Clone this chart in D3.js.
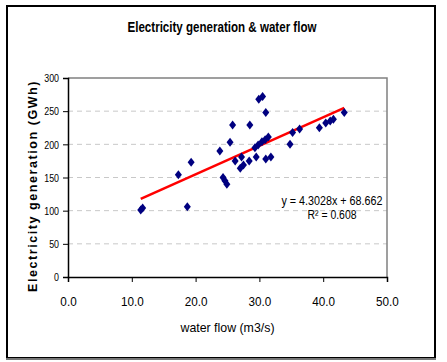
<!DOCTYPE html>
<meta charset="utf-8">
<html>
<script src="https://d3js.org/d3.v7.min.js"></script>

<style>
    body {
        margin: 0;
        background-color: #fff;
    }
    svg text {
        font-family: "Liberation Sans", Arial, sans-serif;
    }
</style>

<body>
<svg id="chart"></svg>

<script>
// ------------------------------- data -------------------------------
const waterFlow = [11.4, 11.7, 17.3, 18.7, 19.3, 23.8, 24.3, 24.6, 24.9, 25.4,
                   25.8, 26.2, 27.0, 27.2, 27.5, 28.4, 28.5, 29.3, 29.5, 29.8,
                   29.9, 30.4, 30.5, 30.9, 31.0, 31.0, 31.4, 31.8, 34.8, 35.2,
                   36.3, 39.4, 40.4, 41.1, 41.6, 43.3];
const electricity = [101, 104, 154, 106, 173, 190, 150, 145, 140, 203,
                     229, 175, 164, 181, 169, 175, 229, 195, 181, 199,
                     268, 204, 272, 207, 248, 178, 211, 181, 200, 218,
                     223, 225, 232, 235, 238, 248];
const xTicks = [0, 10, 20, 30, 40, 50];
const yTicks = [0, 50, 100, 150, 200, 250, 300];
const trendSlope = 4.3028, trendIntercept = 68.662, rSquared = 0.608;

//dimensions
let width = 447, height = 362;

let svg = d3.select("#chart")
    .attr("width", width)
    .attr("height", height);

// no narrow font installed -> squeeze text horizontally
function squeeze(sel, k) {
    sel.each(function () {
        let w = this.getComputedTextLength();
        d3.select(this)
            .attr("textLength", w * k)
            .attr("lengthAdjust", "spacingAndGlyphs");
    });
}

// outer frame
svg.append("rect")
    .attr("x", 7).attr("y", 6)
    .attr("width", 428).attr("height", 352)
    .attr("fill", "#fff")
    .attr("stroke", "#000")
    .attr("stroke-width", 2);
svg.append("line")
    .attr("x1", 6).attr("x2", 436)
    .attr("y1", 359).attr("y2", 359)
    .attr("stroke", "#777").attr("stroke-width", 2);

// scales
let x = d3.scaleLinear().domain([0, 50]).range([68, 387]);
let y = d3.scaleLinear().domain([0, 300]).range([277, 78]);

// gridlines (dashed)
svg.append("g")
    .selectAll("line")
    .data(yTicks.filter(d => d > 0 && d < 300))
    .enter()
    .append("line")
        .attr("x1", x(0)).attr("x2", x(50))
        .attr("y1", d => y(d)).attr("y2", d => y(d))
        .attr("stroke", "#c8c8c8")
        .attr("stroke-dasharray", "5,4");

// plot border top + right (gray)
svg.append("path")
    .attr("d", `M${x(0)},${y(300)}H${x(50)}V${y(0)}`)
    .attr("fill", "none")
    .attr("stroke", "#808080")
    .attr("stroke-width", 1.5);

// axes
let xAxis = svg.append("g")
    .attr("transform", `translate(0,${y(0)})`)
    .call(d3.axisBottom(x).tickValues(xTicks).tickFormat(d3.format(".1f")).tickSizeOuter(0).tickSize(5).tickPadding(15));
let yAxis = svg.append("g")
    .attr("transform", `translate(${x(0)},0)`)
    .call(d3.axisLeft(y).tickValues(yTicks).tickSizeOuter(0).tickSize(5).tickPadding(4));

[xAxis, yAxis].forEach(g => {
    g.select(".domain").attr("stroke", "#000").attr("stroke-width", 1.5);
    g.selectAll(".tick line").attr("stroke", "#000");
    g.selectAll(".tick text")
        .attr("fill", "#000")
        .style("font-family", "\"Liberation Sans\", Arial, sans-serif");
});
xAxis.selectAll(".tick text").style("font-size", "13px").call(squeeze, 0.9);
yAxis.selectAll(".tick text").style("font-size", "11.5px").call(squeeze, 0.77);

// trend line
let xMin = d3.min(waterFlow), xMax = d3.max(waterFlow);
svg.append("line")
    .attr("x1", x(xMin)).attr("y1", y(trendSlope * xMin + trendIntercept))
    .attr("x2", x(xMax)).attr("y2", y(trendSlope * xMax + trendIntercept))
    .attr("stroke", "#ff0000")
    .attr("stroke-width", 2.5);

// points (diamonds)
svg.append("g")
    .selectAll("path")
    .data(waterFlow.map((d, i) => [d, electricity[i]]))
    .enter()
    .append("path")
        .attr("d", "M0,-4.5L3.5,0L0,4.5L-3.5,0Z")
        .attr("transform", d => `translate(${x(d[0])},${y(d[1])})`)
        .attr("fill", "#000080");

// title
svg.append("text")
    .attr("x", 222).attr("y", 32)
    .attr("text-anchor", "middle")
    .style("font-size", "14px")
    .style("font-weight", "bold")
    .text("Electricity generation & water flow")
    .attr("textLength", 189)
    .attr("lengthAdjust", "spacingAndGlyphs");

// axis titles
svg.append("text")
    .attr("x", (x(0) + x(50)) / 2).attr("y", 332)
    .attr("text-anchor", "middle")
    .style("font-size", "13px")
    .text("water flow (m3/s)")
    .attr("textLength", 94)
    .attr("lengthAdjust", "spacingAndGlyphs");

svg.append("text")
    .attr("transform", "translate(37,186) rotate(-90)")
    .attr("text-anchor", "middle")
    .style("font-size", "12px")
    .style("font-weight", "bold")
    .style("letter-spacing", "1.5px")
    .text("Electricity generation (GWh)")
    .attr("textLength", 212)
    .attr("lengthAdjust", "spacingAndGlyphs");

// equation
let eq = svg.append("text")
    .attr("text-anchor", "middle")
    .style("font-size", "12px");
eq.append("tspan")
    .attr("x", 332).attr("y", 205)
    .text(`y = ${trendSlope}x + ${trendIntercept}`)
    .attr("textLength", 101)
    .attr("lengthAdjust", "spacingAndGlyphs");
eq.append("tspan")
    .attr("x", 332).attr("y", 219)
    .text(`R² = ${rSquared}`)
    .attr("textLength", 49)
    .attr("lengthAdjust", "spacingAndGlyphs");
</script>
</body>
</html>
